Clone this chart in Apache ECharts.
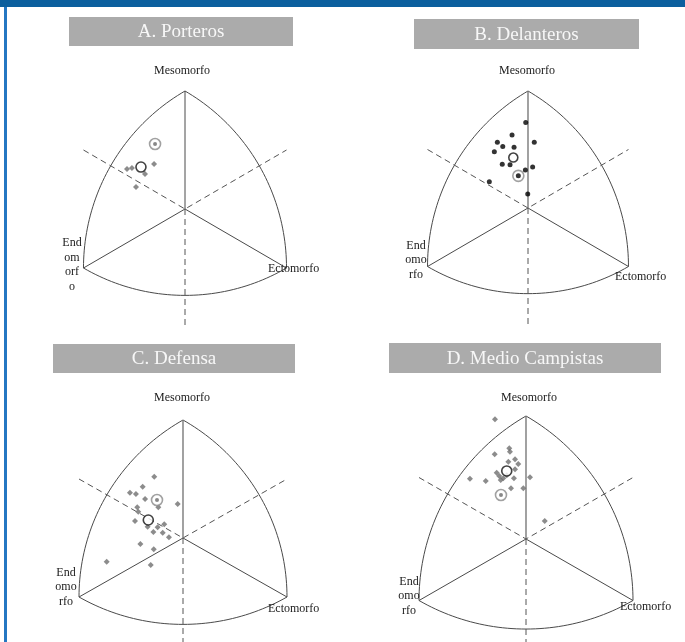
<!DOCTYPE html>
<html><head><meta charset="utf-8">
<script src="https://cdn.jsdelivr.net/npm/echarts@6/dist/echarts.min.js"></script>
<style>html,body{margin:0;padding:0;background:#fff}#c{width:685px;height:642px}</style>
</head><body><div id="c"></div>
<script>
// ---- text ----
const panelTitles = ['A. Porteros', 'B. Delanteros', 'C. Defensa', 'D. Medio Campistas'];
const mesoLabel = 'Mesomorfo';
const ectoLabel = 'Ectomorfo';
const endoLabels = ['End\nom\norf\no', 'End\nomo\nrfo', 'End\nomo\nrfo', 'End\nomo\nrfo'];

// ---- data: somatochart coordinates X = ecto - endo, Y = 2*meso - (endo + ecto) ----
const porterosX = [-4.57, -4.18, -3.15, -2.44, -3.86];
const porterosY = [5.42, 5.56, 4.75, 6.10, 2.98];
const porterosMean = [-3.47, 5.69];
const porterosRef = [-2.36, 8.81];

const delanterosX = [-0.18, -1.27, 0.50, -2.44, -2.01, -1.11, -2.68, -2.05, -1.43, 0.37, -0.21, -3.08, -0.02];
const delanterosY = [11.7, 10.0, 9.0, 9.0, 8.4, 8.3, 7.7, 6.0, 5.9, 5.6, 5.2, 3.6, 1.9];
const delanterosMean = [-1.17, 6.9];
const delanterosRef = [-0.77, 4.4];

const defensaX = [-2.21, -3.10, -4.08, -3.62, -2.92, -1.90, -0.41, -3.52, -3.44, -3.69, -2.72, -1.95, -1.44, -2.28, -1.56, -1.08, -3.28, -2.25, -5.87, -2.48];
const defensaY = [8.31, 6.96, 6.14, 5.97, 5.29, 4.16, 4.61, 4.16, 3.57, 2.31, 1.53, 1.45, 1.86, 0.81, 0.72, 0.09, -0.81, -1.53, -3.21, -3.66];
const defensaMean = [-2.67, 2.44];
const defensaRef = [-2.00, 5.15];

const medioX = [-2.32, -1.25, -1.20, -2.34, -0.82, -1.32, -0.58, -2.19, -0.82, -2.00, -1.70, -1.89, -4.19, -3.01, -0.90, 0.30, -1.12, -0.20, 1.40, -1.44];
const medioY = [15.57, 11.8, 11.36, 11.02, 10.37, 10.06, 9.76, 8.62, 9.07, 8.2, 7.9, 7.67, 7.84, 7.54, 7.9, 8.03, 6.6, 6.6, 2.34, 8.3];
const medioMean = [-1.44, 8.85];
const medioRef = [-1.87, 5.72];

const groupsX = [porterosX, delanterosX, defensaX, medioX];
const groupsY = [porterosY, delanterosY, defensaY, medioY];
const groupsMean = [porterosMean, delanterosMean, defensaMean, medioMean];
const groupsRef = [porterosRef, delanterosRef, defensaRef, medioRef];

// ---- layout (pixels) ----
const layout = [
  {cx:185, cy:209, kx:12.69, ky:7.375, box:[69,17,224,29], meso:[182,71], endo:[72,265], ecto:[268,269]},
  {cx:528, cy:208, kx:12.56, ky:7.3125, box:[414,19,225,30], meso:[527,71], endo:[416,260], ecto:[615,277]},
  {cx:183, cy:538, kx:13.0, ky:7.375, box:[53,344,242,29], meso:[182,398], endo:[66,587], ecto:[268,609]},
  {cx:526, cy:539, kx:13.375, ky:7.6875, box:[389,343,272,30], meso:[529,398], endo:[409,596], ecto:[620,607]}
];
const pointStyle = [
  {symbol:'diamond', size:6, color:'#6f6f6f', dot:'#6a6a6a', dotSize:4},
  {symbol:'circle', size:5, color:'#000000', dot:'#000000', dotSize:5},
  {symbol:'diamond', size:6, color:'#6f6f6f', dot:'#6a6a6a', dotSize:4},
  {symbol:'diamond', size:6, color:'#6f6f6f', dot:'#6a6a6a', dotSize:4}
];

// ---- somatochart frame geometry (Reuleaux triangle) ----
const C30 = Math.cos(Math.PI / 6);
const S3 = Math.sqrt(3);
function uvToXY(u, v) { return [u * 8 / C30, v * 16]; }
function arc(cu, cv, r, a0, a1) {
  const pts = [];
  for (let k = 0; k <= 48; k++) {
    const a = (a0 + (a1 - a0) * k / 48) * Math.PI / 180;
    pts.push(uvToXY(cu + r * Math.cos(a), cv + r * Math.sin(a)));
  }
  return pts;
}
const framePts = [].concat(arc(C30, -0.5, S3, 120, 180), arc(0, 1, S3, 240, 300), arc(-C30, -0.5, S3, 0, 60));
const vTop = uvToXY(0, 1), vLeft = uvToXY(-C30, -0.5), vRight = uvToXY(C30, -0.5);
const origin = [0, 0];
const dUL = uvToXY(-C30, 0.5), dUR = uvToXY(C30, 0.5), dDown = uvToXY(0, -1);

const grids = [], xAxes = [], yAxes = [], series = [], graphics = [];
graphics.push({type:'rect', shape:{x:0, y:0, width:685, height:7}, style:{fill:'#0b5f9e'}, z:100});
graphics.push({type:'rect', shape:{x:4, y:7, width:3, height:635}, style:{fill:'#2477c2'}, z:100});

const FONT = '"Liberation Serif", "Times New Roman", serif';
const Y_MIN = -12, Y_MAX = 18, X_MIN = -10, X_MAX = 10;

layout.forEach((L, i) => {
  grids.push({left: L.cx + X_MIN * L.kx, top: L.cy - Y_MAX * L.ky,
              width: (X_MAX - X_MIN) * L.kx, height: (Y_MAX - Y_MIN) * L.ky});
  xAxes.push({gridIndex:i, type:'value', min:X_MIN, max:X_MAX, show:false});
  yAxes.push({gridIndex:i, type:'value', min:Y_MIN, max:Y_MAX, show:false});
  const base = {type:'line', xAxisIndex:i, yAxisIndex:i, symbol:'none', silent:true, clip:false, animation:false};
  series.push(Object.assign({}, base, {data: framePts, lineStyle:{color:'#4a4a4a', width:1}, z:2}));
  series.push(Object.assign({}, base, {data: [vLeft, origin, vRight], lineStyle:{color:'#4a4a4a', width:1}, z:2}));
  series.push(Object.assign({}, base, {data: [origin, vTop], lineStyle:{color: i === 0 ? '#4a4a4a' : '#7a7a7a', width: i === 0 ? 1 : 1.4}, z:2}));
  series.push(Object.assign({}, base, {data: [dUL, origin, dUR], lineStyle:{color:'#555', width:1, type:[6,4]}, z:2}));
  series.push(Object.assign({}, base, {data: [origin, dDown], lineStyle:{color:'#555', width:1, type:[6,4]}, z:2}));

  const ps = pointStyle[i];
  const pts = groupsX[i].map((x, k) => [x, groupsY[i][k]]);
  series.push({type:'scatter', xAxisIndex:i, yAxisIndex:i, data: pts, symbol: ps.symbol, symbolSize: ps.size,
    itemStyle:{color: ps.color}, silent:true, z:3});
  series.push({type:'scatter', xAxisIndex:i, yAxisIndex:i, data:[groupsRef[i]], symbol:'circle', symbolSize:11,
    itemStyle:{color:'#ffffff', borderColor:'#8a8a8a', borderWidth:1.6}, silent:true, z:4});
  series.push({type:'scatter', xAxisIndex:i, yAxisIndex:i, data:[groupsRef[i]], symbol:'circle', symbolSize: ps.dotSize,
    itemStyle:{color: ps.dot}, silent:true, z:5});
  series.push({type:'scatter', xAxisIndex:i, yAxisIndex:i, data:[groupsMean[i]], symbol:'circle', symbolSize: i === 1 ? 9 : 10,
    itemStyle:{color:'#ffffff', borderColor:'#111', borderWidth:1.6}, silent:true, z:6});

  const b = L.box;
  graphics.push({type:'rect', shape:{x:b[0], y:b[1], width:b[2], height:b[3]}, style:{fill:'#ababab'}, z:50});
  graphics.push({type:'text', x:b[0] + b[2] / 2, y:b[1] + b[3] / 2 + 1, z:51,
    style:{text: panelTitles[i], font:'19px ' + FONT, fill:'#f7f7f7', align:'center', verticalAlign:'middle'}});
  graphics.push({type:'text', x:L.meso[0], y:L.meso[1], z:51,
    style:{text: mesoLabel, font:'12px ' + FONT, fill:'#1a1a1a', align:'center', verticalAlign:'middle'}});
  graphics.push({type:'text', x:L.ecto[0], y:L.ecto[1], z:51,
    style:{text: ectoLabel, font:'12px ' + FONT, fill:'#1a1a1a', align:'left', verticalAlign:'middle'}});
  graphics.push({type:'text', x:L.endo[0], y:L.endo[1], z:51,
    style:{text: endoLabels[i], font:'12px ' + FONT, fill:'#1a1a1a', align:'center', verticalAlign:'middle', lineHeight:14.5}});
});

const chart = echarts.init(document.getElementById('c'), null, {renderer:'canvas'});
chart.setOption({
  animation:false,
  backgroundColor:'#ffffff',
  grid: grids, xAxis: xAxes, yAxis: yAxes, series: series, graphic: graphics
});
</script></body></html>
